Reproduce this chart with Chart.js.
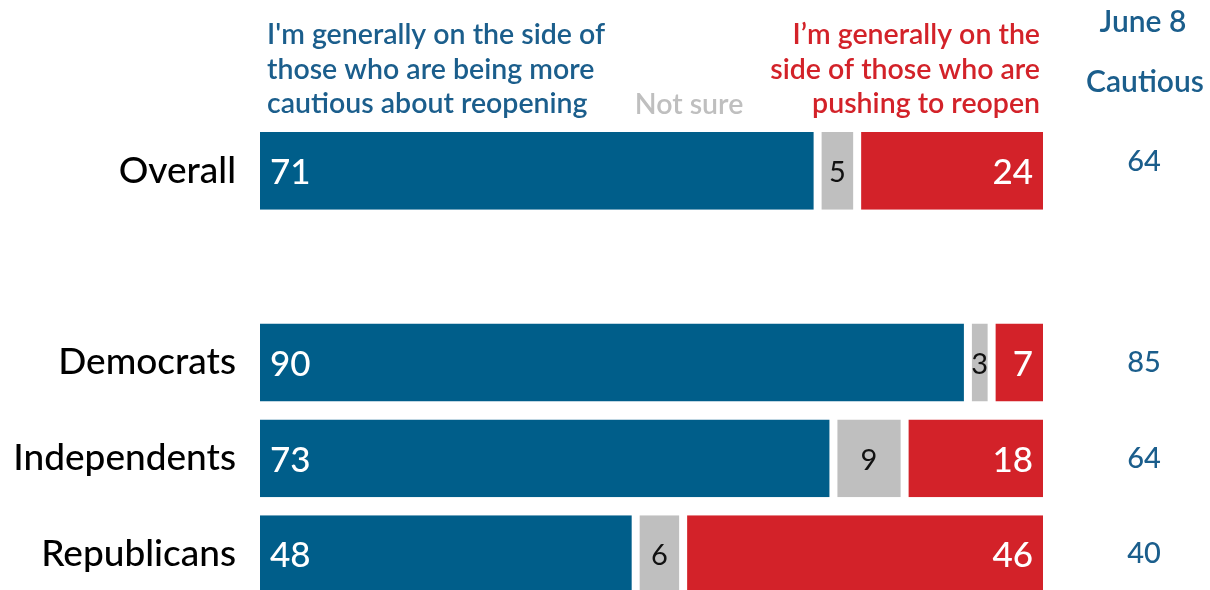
<!DOCTYPE html>
<html><head><meta charset="utf-8">
<script src="https://cdn.jsdelivr.net/npm/chart.js@4"></script>
<style>
html,body{margin:0;padding:0;width:1210px;height:590px;overflow:hidden;background:#fff;}
#wrap{position:relative;left:0;top:0;width:1210px;height:590px;overflow:hidden;}
#c{position:absolute;left:0;top:0;}
</style></head><body>
<div id="wrap"><canvas id="c" width="1210" height="620"></canvas></div>
<script>
const categories = ["Overall", "", "Democrats", "Independents", "Republicans"];
const cautious = [71, null, 90, 73, 48];
const notSure = [5, null, 3, 9, 6];
const pushing = [24, null, 7, 18, 46];
const june8Cautious = [64, null, 85, 64, 40];
const seriesNames = ["I'm generally on the side of those who are being more cautious about reopening", "Not sure", "I\u2019m generally on the side of those who are pushing to reopen"];
const blueLines = ["I'm generally on the side of", "those who are being more", "cautious about reopening"];
const redLines = ["I\u2019m generally on the", "side of those who are", "pushing to reopen"];
const grayHeader = "Not sure";
const rightHeader = ["June 8", "Cautious"];

const BLUE = "#005e8a", GRAY = "#bfbfbf", RED = "#d32229", TXTBLUE = "#1b5e8c";
const FONT = "Lato, 'Open Sans', sans-serif";

const labelPlugin = {
  id: "labels",
  afterDatasetsDraw(chart) {
    const ctx = chart.ctx;
    ctx.save();
    ctx.textBaseline = "middle";
    chart.data.datasets.forEach((ds, di) => {
      const meta = chart.getDatasetMeta(di);
      meta.data.forEach((bar, i) => {
        const v = ds.data[i];
        if (v == null) return;
        const left = Math.min(bar.x, bar.base), right = Math.max(bar.x, bar.base);
        if (di === 0) {
          ctx.fillStyle = "#fff"; ctx.font = "500 35px " + FONT; ctx.textAlign = "left";
          ctx.fillText(String(v), left + 14, bar.y + 2);
        } else if (di === 1) {
          ctx.fillStyle = "#111"; ctx.font = "29px " + FONT; ctx.textAlign = "center";
          ctx.fillText(String(v), (left + right) / 2, bar.y + 2);
        } else {
          ctx.fillStyle = "#fff"; ctx.font = "500 35px " + FONT; ctx.textAlign = "right";
          ctx.fillText(String(v), right - 14, bar.y + 2);
        }
      });
    });
    const ys = chart.scales.y;
    ctx.fillStyle = TXTBLUE; ctx.font = "500 29px " + FONT; ctx.textAlign = "center";
    june8Cautious.forEach((v, i) => {
      if (v == null) return;
      ctx.fillText(String(v), 1144, ys.getPixelForValue(i) + (i === 0 ? -9 : 0));
    });
    ctx.font = "600 30px " + FONT;
    ctx.fillText(rightHeader[0], 1143, 22);
    ctx.fillText(rightHeader[1], 1145, 82);
    ctx.font = "600 28.5px " + FONT;
    ctx.fillStyle = TXTBLUE; ctx.textAlign = "left";
    blueLines.forEach((t, k) => ctx.fillText(t, 267, 35 + k * 34.5));
    ctx.fillStyle = RED; ctx.textAlign = "right";
    redLines.forEach((t, k) => ctx.fillText(t, 1040, 35 + k * 34.5));
    ctx.fillStyle = GRAY; ctx.textAlign = "center";
    ctx.fillText(grayHeader, 689, 105);
    ctx.restore();
  }
};

const mk = (label, data, color) => ({
  label, data, backgroundColor: color,
  borderColor: "#ffffff", borderWidth: {left: 4, right: 4, top: 0, bottom: 0},
  borderSkipped: false, categoryPercentage: 1, barPercentage: 0.8125
});

new Chart(document.getElementById("c"), {
  type: "bar",
  data: {
    labels: categories,
    datasets: [mk(seriesNames[0], cautious, BLUE), mk(seriesNames[1], notSure, GRAY), mk(seriesNames[2], pushing, RED)]
  },
  options: {
    indexAxis: "y",
    responsive: false,
    animation: false,
    layout: {padding: {top: 123, bottom: 18, left: 0, right: 163}},
    plugins: {legend: {display: false}, tooltip: {enabled: false}},
    scales: {
      x: {stacked: true, min: 0, max: 100, display: false},
      y: {
        stacked: true,
        grid: {display: false, drawTicks: false},
        border: {display: false},
        ticks: {color: "#000", font: {family: FONT, size: 37, weight: 500}, padding: 20},
        afterFit(s) { s.width = 256; s.paddingTop = 0; s.paddingBottom = 0; }
      }
    }
  },
  plugins: [labelPlugin]
});
</script>
</body></html>
